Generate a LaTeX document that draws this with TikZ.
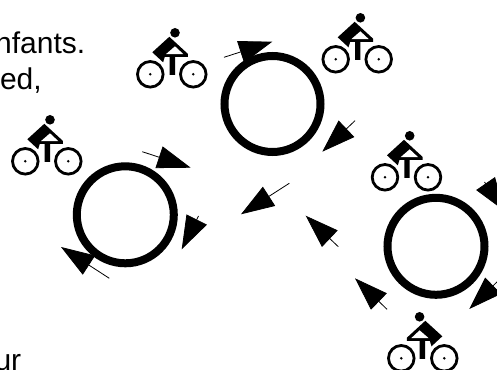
\documentclass[tikz,border=0pt]{standalone}
\usepackage{fontspec}
\setmainfont{Liberation Sans}
\usetikzlibrary{arrows.meta}
\tikzset{
    ring/.style={line width=6pt},
    turn/.style={line width=0.6pt, -{Triangle[length=25pt,width=17pt]}},
    label/.style={font=\fontsize{22.5}{26}\selectfont, inner sep=0pt},
    biker/.pic={
        \draw[line width=2.1pt] (-21.5,0) circle (12.8) (21.5,0) circle (12.8);
        \fill (-21.5,0) circle (1.4) (21.5,0) circle (1.4);
        \fill (3.2,-41.5) circle (4.8);
        \fill (-2.5,-37.5) -- (-19.5,-22) -- (-8.7,-12) -- (-7,-17.5) -- (-2.2,-17.5)
            -- (-2.2,0.7) -- (3.2,0.7) -- (3.2,-17.5) -- (16,-17.5) -- (16,-20.5) -- cycle;
        \fill[white] (-5.8,-20.2) -- (3.2,-28) -- (11.5,-20.2) -- cycle;
    }
}
\begin{document}
\begin{tikzpicture}[x=0.75pt, y=-0.75pt]
    \useasboundingbox (0,0) rectangle (497,370);
    \clip (0,0) rectangle (497,370);
    % text cut off by the frame
    \node[label, anchor=base east] (line1) at (85.5,54) {nfants.};
    \node[label, anchor=base east] (line2) at (42,90) {ed,};
    \node[label, anchor=base east] (line3) at (21.5,371) {ur};
    % rings
    \draw[ring] (272.5,104) circle (48);
    \draw[ring] (125.3,214.8) circle (48.5);
    \draw[ring] (436,246.3) circle (48.5);
    % cyclists
    \pic at (171.8,74.3) {biker};
    \pic at (357.2,59.3) {biker};
    \pic at (46.8,161.3) {biker};
    \pic at (406.5,177.3) {biker};
    \pic[xscale=-1] at (422.8,358.3) {biker};
    % arrows
    \draw[turn] (224,57.3) -- (272.3,41.7);
    \draw[turn] (355,120.7) -- (322.3,151.7);
    \draw[turn] (289.3,183.3) -- (241,214.3);
    \draw[turn] (142.3,151.7) -- (190.7,167.7);
    \draw[turn] (198.5,216) -- (181.7,249.3);
    \draw[turn] (109.3,278.3) -- (61,247);
    \draw[turn] (338.3,246.7) -- (305.7,215.7);
    \draw[turn] (387,309.3) -- (355,278.3);
    \draw[turn] (484.5,182) -- (504.5,211);
    \draw[turn] (499,280) -- (469.3,309);
\end{tikzpicture}
\end{document}
